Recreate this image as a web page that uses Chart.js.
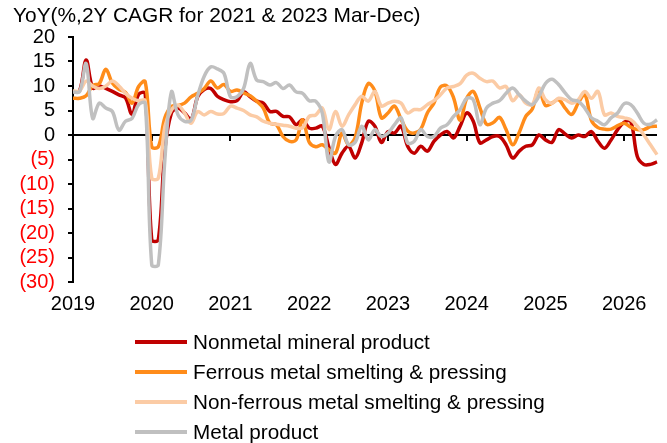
<!DOCTYPE html>
<html><head><meta charset="utf-8">
<script src="https://cdn.jsdelivr.net/npm/chart.js@4.4.1/dist/chart.umd.min.js"></script>
<style>
html,body{margin:0;padding:0;background:#fff;}
#wrap{position:relative;width:667px;height:443px;overflow:hidden;font-family:'Liberation Sans',Arial,sans-serif;}
#title{position:absolute;left:13px;top:3px;font-size:20.9px;color:#000;white-space:nowrap;}
#legend{position:absolute;left:135px;top:327px;}
.row{height:30px;display:flex;align-items:center;font-size:20.7px;color:#000;white-space:nowrap;}
.sw{width:52px;height:4px;margin-right:6px;}
canvas{position:absolute;left:0;top:0;}
</style></head><body>
<div id="wrap"><canvas id="c" width="667" height="443"></canvas><div id="title">YoY(%,2Y CAGR for 2021 &amp; 2023 Mar-Dec)</div><div id="legend"></div></div>
<script>
const yearLabels = ['2019','2020','2021','2022','2023','2024','2025','2026'];
const monthNames = ['01','02','03','04','05','06','07','08','09','10','11','12'];
const lastMonthCount = 6; // 2026 data runs Jan-Jun
const categories = [];
yearLabels.forEach((yr, k) => {
  const n = k === yearLabels.length - 1 ? lastMonthCount : 12;
  for (let i = 0; i < n; i++) categories.push(yr + '-' + monthNames[i]);
});

const seriesNames = ['Nonmetal mineral product','Ferrous metal smelting & pressing','Non-ferrous metal smelting & pressing','Metal product'];
const seriesColors = ['#C00000','#FF8C1A','#FBCBA5','#C0C0C0'];

const nonmetal = [8.8,9.0,15.3,9.6,10.0,9.5,8.9,8.2,7.6,4.2,8.3,8.5,
 -21.4,-21.4,-3.0,4.5,5.5,4.5,3.2,7.8,9.3,9.5,7.9,7.2,
 6.8,7.0,8.8,7.8,6.9,6.5,4.8,4.8,3.8,3.7,2.1,3.1,
 1.4,1.4,1.8,-2.5,-6.0,-3.7,-2.3,-4.7,-1.6,2.8,1.8,-1.5,
 0.7,0.4,1.8,-2.3,-3.7,-2.3,-3.3,-1.3,0.0,0.7,-0.6,1.8,
 4.5,2.8,-1.6,-1.0,-0.3,-0.3,-2.0,-4.7,-3.3,-2.3,-2.0,0.0,
 -1.0,-1.5,1.1,0.2,-0.6,0.0,-0.3,0.7,-1.3,-2.7,-1.0,1.1,
 2.6,2.8,-4.4,-6.0,-6.0,-5.5];
const ferrous = [7.5,7.5,8.0,10.1,10.5,13.4,10.6,9.3,8.7,6.5,9.9,10.9,
 -2.4,-2.4,3.5,5.8,6.0,6.5,7.8,8.5,9.5,11.0,9.6,10.3,
 8.9,9.2,8.6,8.0,6.9,5.5,2.4,2.1,-0.3,-1.3,-1.0,3.1,
 -1.5,-2.4,-2.0,-3.0,-3.7,0.4,-2.0,-0.5,6.5,10.5,9.0,3.5,
 4.5,5.9,3.2,0.8,0.4,1.2,4.5,6.5,9.8,10.0,7.6,3.0,
 7.5,8.9,5.6,2.2,2.5,3.6,1.1,-2.0,0.5,3.8,5.3,9.3,
 6.0,6.5,7.2,5.5,4.2,6.5,8.3,3.0,1.5,1.2,1.2,1.9,
 2.4,1.6,1.1,1.1,1.7,1.8];
const nonferrous = [9.0,9.0,11.0,10.0,9.5,10.0,11.0,10.0,8.5,7.5,7.0,7.0,
 -8.8,-8.8,1.7,5.1,6.1,4.5,2.4,4.8,4.1,4.8,4.3,4.4,
 5.9,5.5,5.0,4.1,3.7,2.8,2.4,2.2,2.0,1.8,1.4,1.5,
 3.8,4.1,5.5,1.1,4.8,1.8,4.1,6.2,7.9,6.9,8.9,5.9,
 6.5,6.9,6.5,4.5,5.2,5.2,6.2,7.0,8.2,9.6,9.9,10.5,
 12.2,12.6,11.6,10.9,11.0,9.6,9.9,7.0,8.2,6.5,6.2,9.6,
 7.2,6.5,7.5,7.2,6.5,7.2,8.9,7.5,8.9,4.1,4.5,3.8,
 3.5,3.1,1.8,0.0,-2.0,-4.0];
const metalProduct = [8.8,8.8,14.6,3.4,6.5,5.5,4.8,1.0,2.8,3.4,6.2,6.5,
 -26.5,-26.5,-5.0,8.8,4.1,2.8,3.0,8.0,12.0,13.9,13.5,12.6,
 7.8,7.8,9.5,14.6,11.2,10.9,10.2,10.7,9.5,10.2,8.8,8.5,
 7.0,6.9,4.4,-5.5,-0.3,1.1,-2.0,-1.5,1.8,-1.0,1.1,-0.3,
 0.4,2.1,3.5,-1.6,-1.3,1.1,-0.3,-0.3,1.4,2.1,3.8,5.2,
 7.5,7.2,2.1,5.5,6.5,7.0,8.5,9.6,8.2,6.9,6.2,7.9,
 10.5,11.4,10.3,8.6,7.2,6.9,5.5,3.5,2.8,2.1,3.5,4.5,
 6.4,6.2,4.5,2.4,2.2,3.1];

const seriesData = [nonmetal, ferrous, nonferrous, metalProduct];
const yMin = -30, yMax = 20, yStep = 5;

Chart.defaults.font.family = "'Liberation Sans', Arial, sans-serif";
Chart.defaults.font.size = 20;
Chart.defaults.color = '#000';

const zeroTicks = {
  id: 'zeroTicks',
  beforeDatasetsDraw(chart) {
    const {ctx, scales: {x, y}} = chart;
    const y0 = y.getPixelForValue(0);
    ctx.save();
    ctx.strokeStyle = '#000';
    ctx.lineWidth = 2;
    categories.forEach((c, i) => {
      if (c.endsWith('-01') && i > 0) {
        const px = Math.round(x.getPixelForValue(i));
        ctx.beginPath(); ctx.moveTo(px, y0); ctx.lineTo(px, y0 + 6); ctx.stroke();
      }
    });
    ctx.restore();
  }
};

const datasets = seriesData.map((d, i) => ({
  label: seriesNames[i],
  data: d,
  borderColor: seriesColors[i],
  backgroundColor: seriesColors[i],
  borderWidth: 3.5,
  pointRadius: 0,
  tension: 0.35,
  fill: false,
  order: seriesData.length - i
}));

new Chart(document.getElementById('c'), {
  type: 'line',
  data: { labels: categories, datasets },
  options: {
    responsive: false,
    animation: false,
    devicePixelRatio: 1,
    layout: { padding: { left: 0, right: 10, top: 37, bottom: 131 } },
    plugins: { legend: { display: false }, tooltip: { enabled: false } },
    scales: {
      x: {
        type: 'category',
        offset: false,
        grid: { display: false, drawTicks: false },
        border: { display: false },
        ticks: {
          autoSkip: false, maxRotation: 0, minRotation: 0, padding: 10,
          font: { size: 20 }, color: '#000',
          callback: function (v, i) { const c = categories[i]; return c.endsWith('-01') ? c.slice(0, 4) : ''; }
        },
        afterFit: (s) => { s.height = 30; }
      },
      y: {
        min: yMin, max: yMax,
        ticks: {
          stepSize: yStep, autoSkip: false, padding: 13, font: { size: 20 },
          color: (ctx) => ctx.tick.value < 0 ? '#FF0000' : '#000',
          callback: (v) => v < 0 ? '(' + (-v) + ')' : String(v)
        },
        grid: {
          drawOnChartArea: true, drawTicks: true, tickLength: 5, lineWidth: 2,
          color: (ctx) => ctx.tick && ctx.tick.value === 0 ? '#000' : 'rgba(0,0,0,0)',
          tickColor: '#000'
        },
        border: { display: true, color: '#000', width: 2 },
        afterFit: (s) => { s.width = 73; }
      }
    }
  },
  plugins: [zeroTicks]
});

const leg = document.getElementById('legend');
datasets.forEach(ds => {
  const row = document.createElement('div'); row.className = 'row';
  const sw = document.createElement('div'); sw.className = 'sw'; sw.style.background = ds.borderColor;
  const tx = document.createElement('span'); tx.textContent = ds.label;
  row.appendChild(sw); row.appendChild(tx); leg.appendChild(row);
});
</script>
</body></html>
